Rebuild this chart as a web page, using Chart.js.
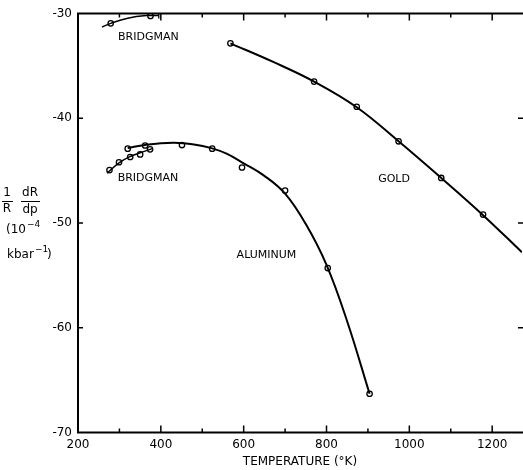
<!DOCTYPE html>
<html>
<head>
<meta charset="utf-8">
<script src="https://cdn.jsdelivr.net/npm/chart.js@4.4.1/dist/chart.umd.min.js"></script>
<style>
  html,body{margin:0;padding:0;background:#fff;}
  #wrap{width:523px;height:470px;position:relative;}
</style>
</head>
<body>
<div id="wrap"><canvas id="c" width="523" height="470"></canvas></div>
<script>
/* ---- data (temperature K, 1/R dR/dp in 1e-4 kbar^-1) ---- */
const xTicks = [200, 400, 600, 800, 1000, 1200];
const yTicks = [-30, -40, -50, -60, -70];

// gold
const goldT   = [568, 770, 873, 974, 1077, 1178];
const goldV   = [-32.85, -36.5, -38.9, -42.2, -45.7, -49.2];
const goldCurveT = [568, 670, 770, 873, 974, 1077, 1178, 1272];
const goldCurveV = [-32.85, -34.6, -36.5, -38.95, -42.2, -45.7, -49.25, -52.8];

// aluminum
const alT = [451, 524, 596, 700, 803, 904];
const alV = [-42.56, -42.9, -44.7, -46.9, -54.3, -66.3];
const alCurveT = [320, 362, 430, 480, 522, 560, 600, 650, 700, 750, 800, 850, 904];
const alCurveV = [-42.85, -42.55, -42.35, -42.5, -42.85, -43.4, -44.3, -45.5, -47.2, -50.1, -54.0, -59.4, -66.3];

// Bridgman, aluminum (low temperature)
const brAlT = [276, 299, 326, 350, 374, 320, 362];
const brAlV = [-44.95, -44.2, -43.7, -43.45, -42.97, -42.9, -42.6];
const brAlLineT = [270, 299, 326, 350, 379];
const brAlLineV = [-45.25, -44.25, -43.65, -43.3, -42.9];

// Bridgman, gold (low temperature)
const brAuT = [279, 375];
const brAuV = [-30.94, -30.24];
const brAuLineT = [258, 279, 320, 365, 395];
const brAuLineV = [-31.3, -30.94, -30.45, -30.2, -30.2];
const brAuEndT = [395];
const brAuEndV = [-30.2];

const notes = [
  {text: 'BRIDGMAN', t: 370, v: -32.25},
  {text: 'BRIDGMAN', t: 369, v: -45.7},
  {text: 'GOLD',     t: 963, v: -45.8},
  {text: 'ALUMINUM', t: 655, v: -53.05}
];

const pts = (xs, ys) => xs.map((x, i) => ({x, y: ys[i]}));
const FONT = '"DejaVu Sans", sans-serif';

function curve(xs, ys, w) {
  return {type: 'scatter', data: pts(xs, ys), showLine: true, borderColor: '#000',
    borderWidth: w, pointRadius: 0, tension: 0.4, fill: false};
}
function marks(xs, ys) {
  return {type: 'scatter', data: pts(xs, ys), showLine: false, pointRadius: 2.7,
    pointBorderWidth: 1.3, pointBorderColor: '#000', pointBackgroundColor: '#fff'};
}

/* frame (left/top/bottom), inward ticks, labels */
const decor = {
  id: 'decor',
  afterDatasetsDraw(chart) {
    const {ctx, chartArea: a, scales: {x, y}} = chart;
    ctx.save();
    ctx.strokeStyle = '#000';
    ctx.lineWidth = 2;
    ctx.beginPath();
    ctx.moveTo(chart.width, a.top); ctx.lineTo(a.left, a.top);
    ctx.lineTo(a.left, a.bottom); ctx.lineTo(chart.width, a.bottom);
    ctx.stroke();
    ctx.lineWidth = 1.5;
    for (let t = 300; t < x.max; t += 100) {
      const px = x.getPixelForValue(t), len = t % 200 === 0 ? 7 : 4;
      ctx.beginPath();
      ctx.moveTo(px, a.bottom); ctx.lineTo(px, a.bottom - len);
      ctx.moveTo(px, a.top); ctx.lineTo(px, a.top + len);
      ctx.stroke();
    }
    for (const v of [-40, -50, -60]) {
      const py = y.getPixelForValue(v);
      ctx.beginPath();
      ctx.moveTo(a.left, py); ctx.lineTo(a.left + 5, py);
      ctx.moveTo(a.right + 1, py); ctx.lineTo(a.right - 4, py);
      ctx.stroke();
    }
    // text labels
    ctx.fillStyle = '#000';
    ctx.font = '11px ' + FONT;
    ctx.textAlign = 'center';
    ctx.textBaseline = 'middle';
    notes.forEach(n => ctx.fillText(n.text, x.getPixelForValue(n.t), y.getPixelForValue(n.v)));

    // y-axis title: 1/R dR/dp (10^-4 kbar^-1)
    ctx.font = '12px ' + FONT;
    ctx.textAlign = 'center';
    ctx.fillText('1', 7, 193);
    ctx.fillText('R', 7, 209);
    ctx.fillText('dR', 30, 193);
    ctx.fillText('dp', 30, 210);
    ctx.lineWidth = 1;
    ctx.beginPath();
    ctx.moveTo(2, 201.5); ctx.lineTo(13, 201.5);
    ctx.moveTo(21, 201.5); ctx.lineTo(40, 201.5);
    ctx.stroke();
    ctx.textAlign = 'left';
    ctx.fillText('(10', 6, 230);
    ctx.font = '9px ' + FONT;
    ctx.fillText('\u22124', 27, 225);
    ctx.font = '12px ' + FONT;
    ctx.fillText('kbar', 7, 255);
    ctx.font = '9px ' + FONT;
    ctx.fillText('\u22121', 35, 250);
    ctx.font = '12px ' + FONT;
    ctx.fillText(')', 47, 255);
    ctx.restore();
  }
};

new Chart(document.getElementById('c'), {
  type: 'scatter',
  data: {
    datasets: [
      curve(goldCurveT, goldCurveV, 2),
      curve(alCurveT, alCurveV, 2),
      curve(brAlLineT, brAlLineV, 1.5),
      curve(brAuLineT, brAuLineV, 1.5),
      marks(goldT, goldV),
      marks(alT, alV),
      marks(brAlT, brAlV),
      marks(brAuT, brAuV),
      {type: 'scatter', data: pts(brAuEndT, brAuEndV), showLine: false, pointStyle: 'line',
        rotation: 90, pointRadius: 3, pointBorderWidth: 1.3, pointBorderColor: '#000'}
    ]
  },
  options: {
    responsive: false,
    animation: false,
    devicePixelRatio: 1,
    layout: {autoPadding: false, padding: {left: 0, right: 1, top: 13.5, bottom: 0}},
    plugins: {legend: {display: false}, tooltip: {enabled: false}},
    scales: {
      x: {
        type: 'linear', min: 200, max: 1272,
        afterFit: s => { s.height = 37.5; s.paddingLeft = 0; s.paddingRight = 0; },
        afterBuildTicks: s => { s.ticks = xTicks.map(v => ({value: v})); },
        grid: {display: false, drawTicks: false},
        border: {display: false},
        ticks: {padding: 5, color: '#000', font: {family: FONT, size: 12}, maxRotation: 0,
          callback: v => String(v)},
        title: {display: true, text: 'TEMPERATURE (°K)', color: '#000',
          font: {family: FONT, size: 12}, padding: {top: 0, bottom: 1}}
      },
      y: {
        type: 'linear', min: -70, max: -30,
        afterFit: s => { s.width = 78; },
        afterBuildTicks: s => { s.ticks = yTicks.map(v => ({value: v})); },
        grid: {display: false, drawTicks: false},
        border: {display: false},
        ticks: {padding: 6, color: '#000', font: {family: FONT, size: 12},
          callback: v => String(v)}
      }
    }
  },
  plugins: [decor]
});
</script>
</body>
</html>
